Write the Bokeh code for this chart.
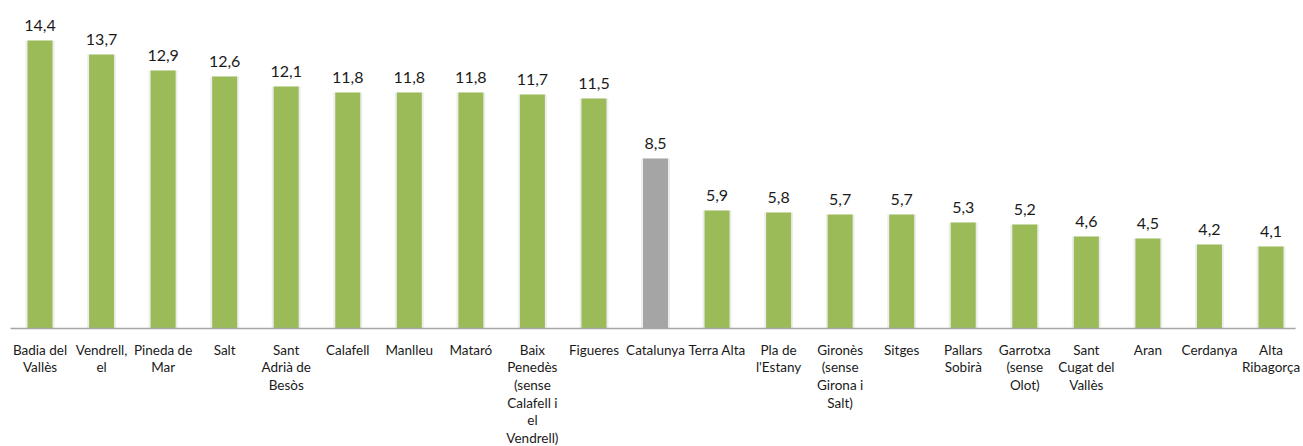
from bokeh.plotting import figure
from bokeh.models import ColumnDataSource, Range1d
from bokeh.core.properties import value
from bokeh.embed import file_html
from bokeh.resources import INLINE

categories = [
    "Badia del\nVallès", "Vendrell,\nel", "Pineda de\nMar", "Salt", "Sant\nAdrià de\nBesòs",
    "Calafell", "Manlleu", "Mataró", "Baix\nPenedès\n(sense\nCalafell i\nel\nVendrell)",
    "Figueres", "Catalunya", "Terra Alta", "Pla de\nl'Estany", "Gironès\n(sense\nGirona i\nSalt)",
    "Sitges", "Pallars\nSobirà", "Garrotxa\n(sense\nOlot)", "Sant\nCugat del\nVallès",
    "Aran", "Cerdanya", "Alta\nRibagorça",
]
values = [14.4, 13.7, 12.9, 12.6, 12.1, 11.8, 11.8, 11.8, 11.7, 11.5, 8.5,
          5.9, 5.8, 5.7, 5.7, 5.3, 5.2, 4.6, 4.5, 4.2, 4.1]
highlight = "Catalunya"

GREEN = "#9BBB59"
GREY = "#A5A5A5"
FONT = "Lato"

n = len(categories)
xs = list(range(n))
colors = [GREY if c == highlight else GREEN for c in categories]
labels = [f"{v:.1f}".replace(".", ",") for v in values]

src = ColumnDataSource(dict(x=xs, top=values, color=colors, label=labels))

p = figure(width=1303, height=446, output_backend="svg", toolbar_location=None,
           x_range=Range1d(-0.642, 20.528), y_range=Range1d(-5.9, 16.4),
           min_border=0, min_border_left=0, min_border_right=0,
           min_border_top=0, min_border_bottom=0)
p.outline_line_color = None
p.xgrid.visible = False
p.ygrid.visible = False
p.xaxis.visible = False
p.yaxis.visible = False
p.background_fill_color = "white"

# subtle shadow around bars
p.vbar(x="x", top="top", bottom=0, width=0.47, source=src,
       fill_color="#e6e6e6", fill_alpha=0.7, line_color=None)

p.vbar(x="x", top="top", bottom=0, width=0.406, source=src,
       fill_color="color", line_color=None)

# baseline axis
p.segment(x0=[-0.48], y0=[0], x1=[20.40], y1=[0], line_color="#A6A6A6", line_width=1.5)

p.text(x="x", y="top", text="label", source=src, text_align="center",
       text_baseline="bottom", y_offset=-10, text_font=value(FONT),
       text_font_size="16px", text_color="#1a1a1a")

# category labels, one line per glyph
lx, ltxt, loff = [], [], []
for i, c in enumerate(categories):
    for k, line in enumerate(c.split("\n")):
        lx.append(i)
        ltxt.append(line)
        loff.append(21 + 17.7 * k)
lsrc = ColumnDataSource(dict(x=lx, y=[0] * len(lx), text=ltxt, off=loff))
p.text(x="x", y="y", text="text", y_offset="off", source=lsrc, text_align="center",
       text_baseline="middle", text_font=value(FONT), text_font_size="13.5px",
       text_color="#1a1a1a")

open("out.html", "w").write(file_html(p, INLINE))
